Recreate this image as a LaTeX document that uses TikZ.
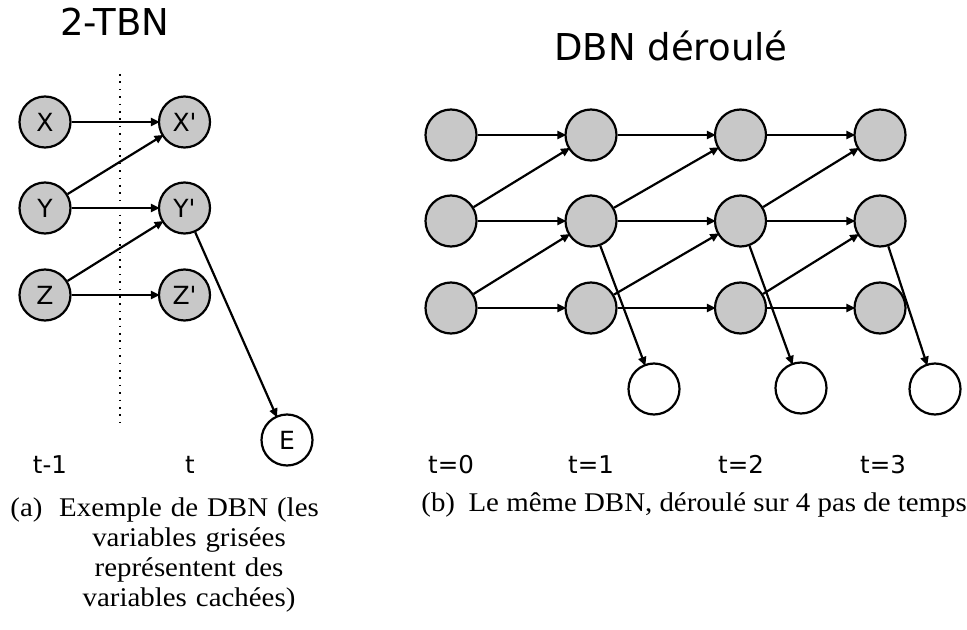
\documentclass[tikz,border=0pt]{standalone}
\usepackage{fontspec}
\setmainfont{Liberation Serif}[FakeStretch=1.07]
\newfontfamily\dejavu{DejaVu Sans}
\usetikzlibrary{arrows.meta}
\definecolor{hiddengray}{RGB}{200,200,200}

\tikzset{
    hidden/.style={circle, draw, line width=1.1pt, fill=hiddengray, minimum size=25.5pt, inner sep=0pt, font=\dejavu\fontsize{12.5}{15}\selectfont},
    observed/.style={hidden, fill=white},
    dep/.style={-{Triangle[length=4.5pt,width=4pt]}, line width=1.1pt, shorten >=-1pt},
    timelabel/.style={anchor=base, inner sep=0pt, font=\dejavu\fontsize{12.25}{14}\selectfont},
    paneltitle/.style={anchor=base, inner sep=0pt, font=\dejavu\fontsize{18.5}{22}\selectfont},
    subcap/.style={inner sep=0pt, font=\fontsize{13.5}{15}\selectfont}
}

\begin{document}
\begin{tikzpicture}[x=0.5pt, y=-0.5pt]
        \useasboundingbox (0,0) rectangle (967,630);
        \node[paneltitle] (titlea) at (115,36) {2-TBN};
        \node[hidden] (x) at (45,122) {X};
        \node[hidden] (xp) at (184.5,122) {X'};
        \node[hidden] (y) at (45,208) {Y};
        \node[hidden] (yp) at (184.5,208) {Y'};
        \node[hidden] (z) at (45,295) {Z};
        \node[hidden] (zp) at (184.5,295) {Z'};
        \node[observed] (e) at (287,440) {E};
        \draw[line width=0.8pt, dash pattern=on 0.8pt off 2.9pt] (120,74) -- (120,428);
        \draw[dep] (x) -- (xp);
        \draw[dep] (y) -- (xp);
        \draw[dep] (y) -- (yp);
        \draw[dep] (z) -- (yp);
        \draw[dep] (z) -- (zp);
        \draw[dep] (yp) -- (e);
        \node[timelabel] (tprev) at (50,473) {t-1};
        \node[timelabel] (tcur) at (190,473) {t};
        \node[subcap, anchor=base west] (capa) at (10,516) {(a)};
        \node[subcap, anchor=base, text width=150pt, align=center] (capatext) at (189,516)
            {Exemple de DBN (les\\variables grisées\\représentent des\\variables cachées)};

        \node[paneltitle] (titleb) at (671,61) {DBN déroulé};
        \node[hidden] (hx0) at (451,135) {};
        \node[hidden] (hy0) at (451,221) {};
        \node[hidden] (hz0) at (451,308) {};
        \node[hidden] (hx1) at (591,135) {};
        \node[hidden] (hy1) at (591,221) {};
        \node[hidden] (hz1) at (591,308) {};
        \node[hidden] (hx2) at (740.5,135) {};
        \node[hidden] (hy2) at (740.5,221) {};
        \node[hidden] (hz2) at (740.5,308) {};
        \node[hidden] (hx3) at (880,135) {};
        \node[hidden] (hy3) at (880,221) {};
        \node[hidden] (hz3) at (880,308) {};
        \node[observed] (ev1) at (654,389) {};
        \node[observed] (ev2) at (801,388) {};
        \node[observed] (ev3) at (935,389) {};
        \draw[dep] (hx0) -- (hx1);
        \draw[dep] (hy0) -- (hx1);
        \draw[dep] (hy0) -- (hy1);
        \draw[dep] (hz0) -- (hy1);
        \draw[dep] (hz0) -- (hz1);
        \draw[dep] (hx1) -- (hx2);
        \draw[dep] (hy1) -- (hx2);
        \draw[dep] (hy1) -- (hy2);
        \draw[dep] (hz1) -- (hy2);
        \draw[dep] (hz1) -- (hz2);
        \draw[dep] (hx2) -- (hx3);
        \draw[dep] (hy2) -- (hx3);
        \draw[dep] (hy2) -- (hy3);
        \draw[dep] (hz2) -- (hy3);
        \draw[dep] (hz2) -- (hz3);
        \draw[dep] (hy1) -- (ev1);
        \draw[dep] (hy2) -- (ev2);
        \draw[dep] (hy3) -- (ev3);
        \node[timelabel] (t0) at (451,473) {t=0};
        \node[timelabel] (t1) at (591,473) {t=1};
        \node[timelabel] (t2) at (741,473) {t=2};
        \node[timelabel] (t3) at (883,473) {t=3};
        \node[subcap, anchor=base west] (capb) at (421,511) {(b)\hspace{0.5em}Le même DBN, déroulé sur 4 pas de temps};
\end{tikzpicture}
\end{document}
